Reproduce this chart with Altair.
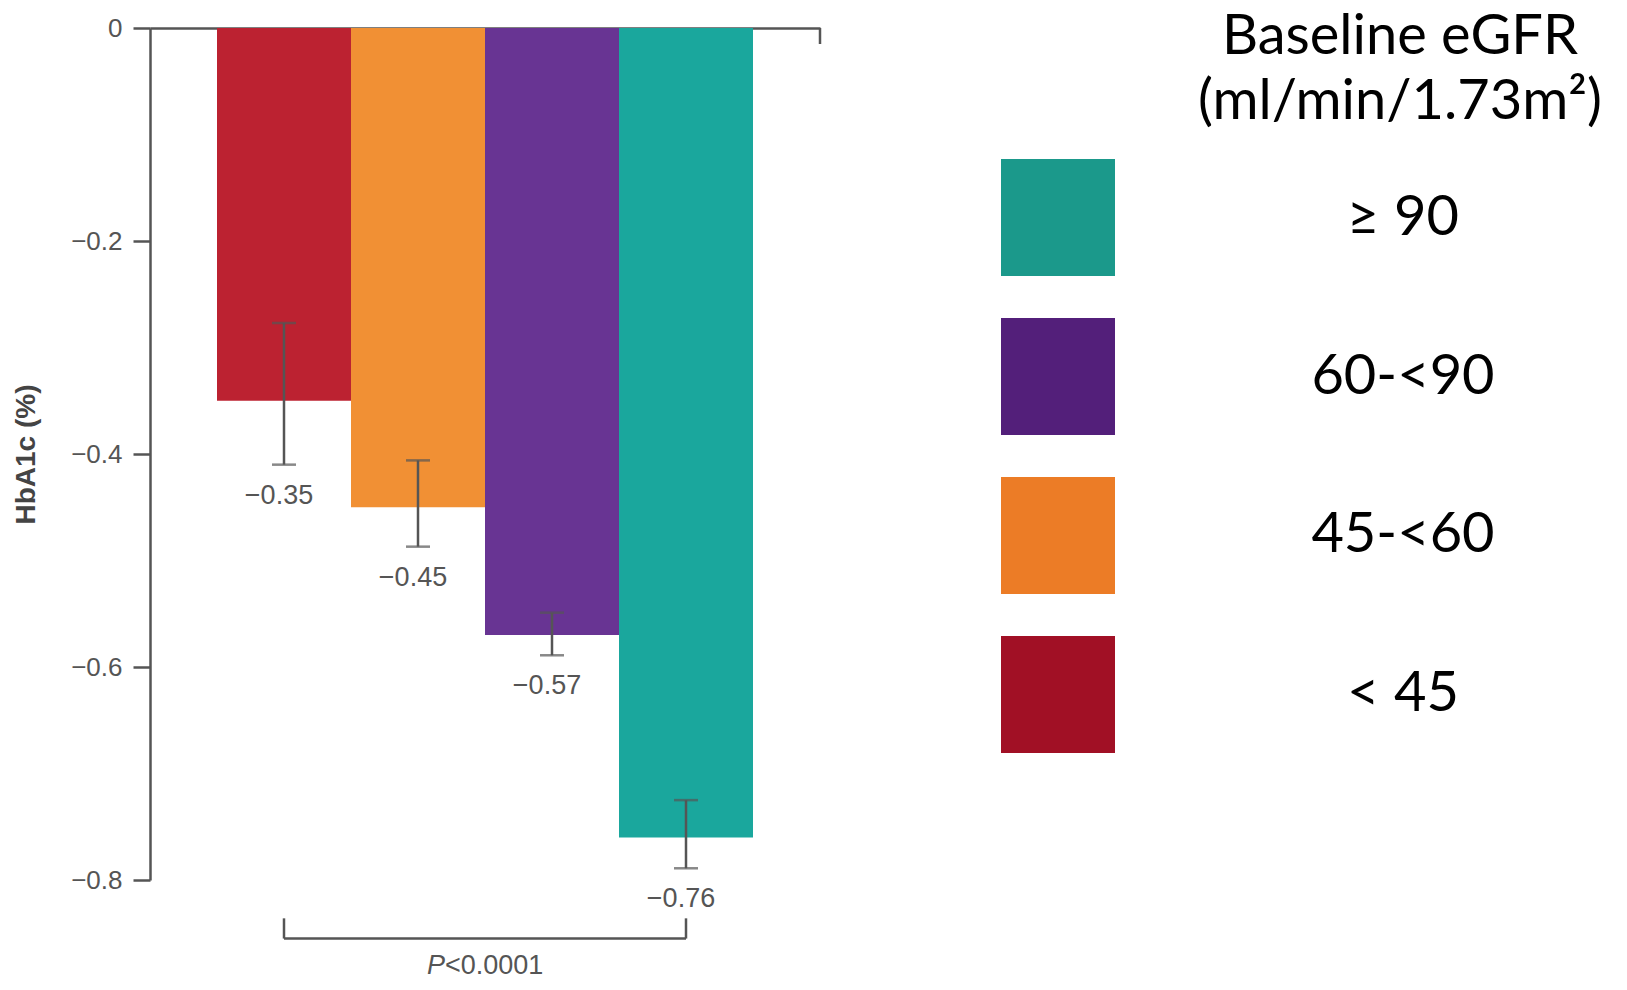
import altair as alt
import pandas as pd

# ---- data ----
categories = ["< 45", "45-<60", "60-<90", "≥ 90"]
means = [-0.35, -0.45, -0.57, -0.76]
ci_low = [-0.41, -0.487, -0.589, -0.789]
ci_high = [-0.277, -0.406, -0.549, -0.725]
bar_colors = ["#BC2231", "#F19034", "#683493", "#1AA79D"]

legend_labels = ["≥ 90", "60-<90", "45-<60", "< 45"]
legend_colors = ["#1B998B", "#531F7A", "#EC7C26", "#A11025"]
legend_title = ["Baseline eGFR", "(ml/min/1.73m²)"]

y_ticks = [0, -0.2, -0.4, -0.6, -0.8]
p_parts = ["P", "<0.0001"]
compare_pair = [categories[0], categories[-1]]

# ---- layout constants ----
W, H = 670, 852
BRACKET_Y = -0.855
BRACKET_TOP = -0.836
P_Y = -0.881
GREY = "#555555"
FONT = "Liberation Sans"
LFONT = "Lato"

df = pd.DataFrame({"cat": categories, "mean": means, "lo": ci_low,
                   "hi": ci_high, "color": bar_colors})

xs = alt.Scale(domain=categories, paddingInner=0, paddingOuter=0.5)
ys = alt.Scale(domain=[-0.8, 0], nice=False, zero=False)


def X(field, **kw):
    return alt.X(field, scale=xs, sort=categories, title=None, **kw)


x_axis = alt.Axis(orient="top", title=None, labels=False, ticks=False,
                  domain=True, domainColor=GREY, domainWidth=2.5)
y_axis = alt.Axis(values=y_ticks, title="HbA1c (%)", grid=False,
                  domainColor=GREY, domainWidth=2.5, tickColor=GREY,
                  tickWidth=2.5, tickSize=17, labelFont=FONT,
                  labelFontSize=26, labelColor=GREY, labelPadding=11,
                  labelExpr="datum.value == 0 ? '0' : format(datum.value, '.1f')",
                  titleFont=FONT, titleFontSize=28, titleFontWeight="bold",
                  titleColor="#444444", titlePadding=30)

base = alt.Chart(df)

bars = base.mark_bar().encode(
    x=X("cat:N", axis=x_axis),
    y=alt.Y("mean:Q", scale=ys, axis=y_axis),
    y2=alt.datum(0),
    color=alt.Color("color:N", scale=None),
)
err = base.mark_rule(color=GREY, strokeWidth=2.5).encode(
    x=X("cat:N"), y=alt.Y("lo:Q", scale=ys), y2="hi:Q")
cap_lo = base.mark_tick(color=GREY, thickness=2.5, size=24).encode(
    x=X("cat:N"), y=alt.Y("lo:Q", scale=ys))
cap_hi = base.mark_tick(color=GREY, thickness=2.5, size=24).encode(
    x=X("cat:N"), y=alt.Y("hi:Q", scale=ys))
vlabels = base.mark_text(dy=31, dx=-5, baseline="middle", font=FONT,
                         fontSize=27, color=GREY).encode(
    x=X("cat:N"), y=alt.Y("lo:Q", scale=ys),
    text=alt.Text("mean:Q", format=".2f"))

br_df = pd.DataFrame({"a": [compare_pair[0]], "b": [compare_pair[1]]})
bracket_h = alt.Chart(br_df).mark_rule(color=GREY, strokeWidth=2.5).encode(
    x=X("a:N"), x2="b:N", y=alt.datum(BRACKET_Y))
ends_df = pd.DataFrame({"cat": compare_pair})
bracket_v = alt.Chart(ends_df).mark_rule(color=GREY, strokeWidth=2.5).encode(
    x=X("cat:N"), y=alt.datum(BRACKET_Y), y2=alt.datum(BRACKET_TOP))

mid_df = pd.DataFrame({"cat": [categories[1]], "p": [p_parts[0]], "q": [p_parts[1]]})
p1 = alt.Chart(mid_df).mark_text(align="right", baseline="middle", font=FONT,
                                 fontSize=27, fontStyle="italic", color=GREY,
                                 dx=-40).encode(
    x=X("cat:N", bandPosition=1), y=alt.datum(P_Y), text="p:N")
p2 = alt.Chart(mid_df).mark_text(align="left", baseline="middle", font=FONT,
                                 fontSize=27, color=GREY, dx=-40).encode(
    x=X("cat:N", bandPosition=1), y=alt.datum(P_Y), text="q:N")

one = pd.DataFrame({"k": [0]})
drop = alt.Chart(one).mark_rule(color=GREY, strokeWidth=2.5).encode(
    x=alt.value(W), y=alt.value(0), y2=alt.value(16))

main = alt.layer(bars, err, cap_lo, cap_hi, vlabels, bracket_h, bracket_v,
                 p1, p2, drop)

# ---- legend panel ----
leg_df = pd.DataFrame({"label": legend_labels, "color": legend_colors})
ly = alt.Scale(domain=legend_labels, range=[131, 725], paddingInner=0.264,
               paddingOuter=0)
leg_rect = alt.Chart(leg_df).mark_rect().encode(
    x=alt.value(851), x2=alt.value(965),
    y=alt.Y("label:N", scale=ly, sort=legend_labels, axis=None),
    color=alt.Color("color:N", scale=None))
leg_text = alt.Chart(leg_df).mark_text(font=LFONT, fontSize=56, align="center",
                                       baseline="middle", color="black").encode(
    x=alt.value(1253),
    y=alt.Y("label:N", scale=ly, sort=legend_labels, axis=None),
    text="label:N")
title_style = dict(font=LFONT, fontSize=56, align="center", baseline="middle",
                   color="black")
leg_title1 = alt.Chart(one).mark_text(text=legend_title[0], **title_style).encode(
    x=alt.value(1250), y=alt.value(9))
leg_title2 = alt.Chart(one).mark_text(text=legend_title[1], **title_style).encode(
    x=alt.value(1250), y=alt.value(74))
legend = alt.layer(leg_rect, leg_text, leg_title1, leg_title2)

chart = (
    alt.layer(main, legend)
    .resolve_scale(x="independent", y="independent", color="independent")
    .properties(width=W, height=H,
                autosize=alt.AutoSizeParams(type="none"),
                padding={"left": 142, "top": 20, "right": 799, "bottom": 102},
                background="white")
    .configure_view(stroke=None)
)

chart.save("out.html", embed_options={"renderer": "svg", "actions": False})
